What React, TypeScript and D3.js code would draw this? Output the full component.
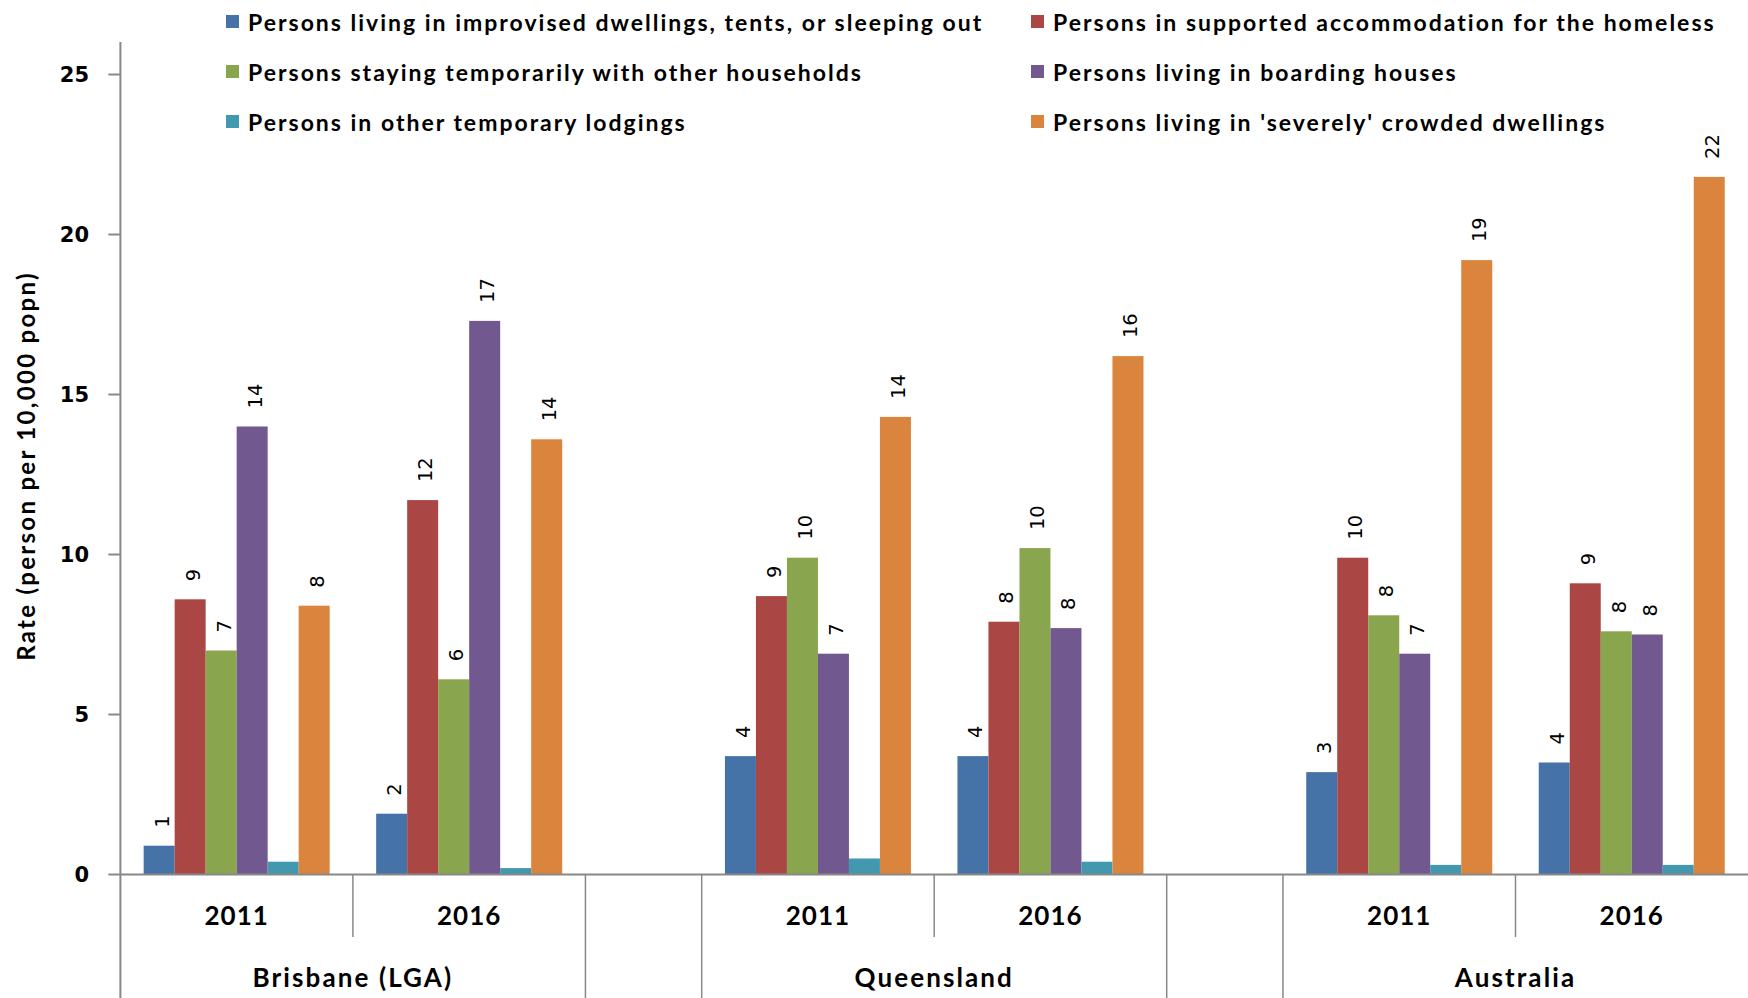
import React from "react";
import * as d3 from "d3";

const seriesNames = [
  "Persons living in improvised dwellings, tents, or sleeping out",
  "Persons in supported accommodation for the homeless",
  "Persons staying temporarily with other households",
  "Persons living in boarding houses",
  "Persons in other temporary lodgings",
  "Persons living in 'severely' crowded dwellings",
];
const seriesColors = ["#4572A7", "#AA4643", "#89A54E", "#71588F", "#4198AF", "#DB843D"];

const groups = ["Brisbane (LGA)", "Queensland", "Australia"];
const years = ["2011", "2016"];

// values per category (group-year), in series order
const improvised = [0.9, 1.9, 3.7, 3.7, 3.2, 3.5];
const supported = [8.6, 11.7, 8.7, 7.9, 9.9, 9.1];
const staying = [7.0, 6.1, 9.9, 10.2, 8.1, 7.6];
const boarding = [14.0, 17.3, 6.9, 7.7, 6.9, 7.5];
const otherLodgings = [0.4, 0.2, 0.5, 0.4, 0.3, 0.3];
const crowded = [8.4, 13.6, 14.3, 16.2, 19.2, 21.8];
const seriesValues = [improvised, supported, staying, boarding, otherLodgings, crowded];
const showLabels = [true, true, true, true, false, true];

const yTicks = [0, 5, 10, 15, 20, 25];
const yTitle = "Rate (person per 10,000 popn)";

const W = 1748;
const H = 998;
const LABEL_FONT = "Lato, 'Open Sans', sans-serif";
const NUM_FONT = "'DejaVu Sans', Verdana, sans-serif";

export default function App() {
  type Slot = { group: string; year: string | null; start: number; end: number; gi: number; ci: number };
  const slots: Slot[] = [];
  let u = 0;
  let ci = 0;
  groups.forEach((g, gi) => {
    if (gi > 0) {
      slots.push({ group: "", year: null, start: u, end: u + 1, gi: -1, ci: -1 });
      u += 1;
    }
    years.forEach((yr) => {
      slots.push({ group: g, year: yr, start: u, end: u + 2, gi, ci });
      u += 2;
      ci += 1;
    });
  });
  const totalUnits = u;

  const x = d3.scaleLinear().domain([0, totalUnits]).range([120.4, 1748]);
  const y = d3.scaleLinear().domain([0, 25]).range([874.5, 74.5]);
  const axisColor = "#888888";
  const yAxisTop = 42;
  const baseY = y(0);

  const catSlots = slots.filter((s) => s.year !== null);

  const shortLines: number[] = [];
  const tallSet: number[] = [];
  slots.forEach((s, i) => {
    const prev = slots[i - 1];
    if (prev && prev.year !== null && s.year !== null && prev.group === s.group) {
      shortLines.push(x(s.start));
    } else {
      tallSet.push(x(s.start));
    }
  });

  const legendItems = seriesNames.map((name, i) => ({
    name,
    color: seriesColors[i],
    col: i % 2,
    row: Math.floor(i / 2),
  }));
  const legendColX = [226, 1031];
  const legendRowY = [22, 72, 122];

  return (
    <svg
      width={W}
      height={H}
      style={{ position: "absolute", left: 0, top: 0, background: "#fff" }}
    >
      <rect x={0} y={0} width={W} height={H} fill="#fff" />
      {/* y axis */}
      <line x1={x(0)} x2={x(0)} y1={yAxisTop} y2={H} stroke={axisColor} strokeWidth={2} />
      {yTicks.map((t) => (
        <g key={t}>
          <line x1={x(0) - 12} x2={x(0)} y1={y(t)} y2={y(t)} stroke={axisColor} strokeWidth={2} />
          <text
            x={89}
            y={y(t)}
            textAnchor="end"
            dominantBaseline="central"
            fontFamily={NUM_FONT}
            fontWeight="bold"
            fontSize={21}
            fill="#000"
          >
            {t}
          </text>
        </g>
      ))}
      <text
        transform={`translate(25, 466) rotate(-90)`}
        textAnchor="middle"
        dominantBaseline="central"
        fontFamily={LABEL_FONT}
        fontWeight="bold"
        fontSize={24}
        fill="#000"
        style={{ letterSpacing: "2.3px" }}
      >
        {yTitle}
      </text>

      {/* bars */}
      {catSlots.map((s) => {
        const x0 = x(s.start);
        const x1 = x(s.end);
        const w = x1 - x0;
        const inner = d3
          .scaleBand<number>()
          .domain(seriesNames.map((_, i) => i))
          .range([x0 + w * 0.1, x1 - w * 0.1]);
        return (
          <g key={s.group + s.year}>
            {seriesValues.map((vals, si) => {
              const v = vals[s.ci];
              const bx = inner(si)!;
              const bw = inner.bandwidth();
              return (
                <g key={si}>
                  <rect
                    x={bx}
                    y={y(v)}
                    width={bw}
                    height={baseY - y(v)}
                    fill={seriesColors[si]}
                  />
                  {showLabels[si] && (
                    <text
                      transform={`translate(${bx + bw / 2 + 3}, ${y(v) - 18}) rotate(-90)`}
                      textAnchor="start"
                      dominantBaseline="central"
                      fontFamily={NUM_FONT}
                      fontSize={19.5}
                      fill="#000"
                    >
                      {Math.round(v)}
                    </text>
                  )}
                </g>
              );
            })}
          </g>
        );
      })}

      {/* x axis */}
      <line x1={x(0)} x2={W} y1={baseY} y2={baseY} stroke={axisColor} strokeWidth={2} />
      {tallSet.slice(1).map((lx, i) => (
        <line key={"t" + i} x1={lx} x2={lx} y1={baseY} y2={H} stroke={axisColor} strokeWidth={1.5} />
      ))}
      {shortLines.map((lx, i) => (
        <line key={"s" + i} x1={lx} x2={lx} y1={baseY} y2={937} stroke={axisColor} strokeWidth={1.5} />
      ))}
      {catSlots.map((s) => (
        <text
          key={"yl" + s.group + s.year}
          x={(x(s.start) + x(s.end)) / 2}
          y={915}
          textAnchor="middle"
          dominantBaseline="central"
          fontFamily={LABEL_FONT}
          fontWeight="bold"
          fontSize={26}
          fill="#000"
          style={{ letterSpacing: "1px" }}
        >
          {s.year}
        </text>
      ))}
      {groups.map((g, gi) => {
        const gs = catSlots.filter((s) => s.gi === gi);
        const cx = (x(gs[0].start) + x(gs[gs.length - 1].end)) / 2;
        return (
          <text
            key={"g" + g}
            x={cx}
            y={977}
            textAnchor="middle"
            dominantBaseline="central"
            fontFamily={LABEL_FONT}
            fontWeight="bold"
            fontSize={26}
            fill="#000"
            style={{ letterSpacing: "2.1px" }}
          >
            {g}
          </text>
        );
      })}

      {/* legend */}
      {legendItems.map((it) => (
        <g key={it.name}>
          <rect
            x={legendColX[it.col]}
            y={legendRowY[it.row] - 7}
            width={13}
            height={13}
            fill={it.color}
          />
          <text
            x={legendColX[it.col] + 22}
            y={legendRowY[it.row]}
            dominantBaseline="central"
            fontFamily={LABEL_FONT}
            fontWeight="bold"
            fontSize={23}
            fill="#000"
            style={{ letterSpacing: "2px" }}
          >
            {it.name}
          </text>
        </g>
      ))}
    </svg>
  );
}
